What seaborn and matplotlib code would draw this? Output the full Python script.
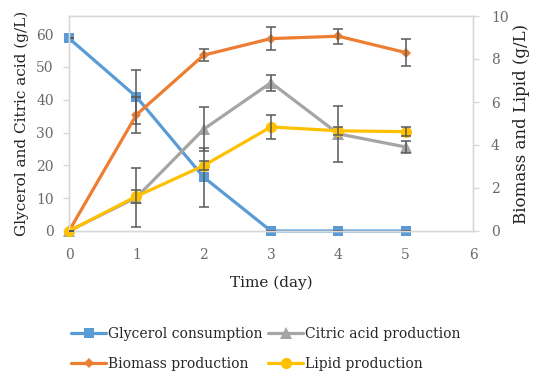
import matplotlib
matplotlib.use("Agg")
import matplotlib.pyplot as plt
import seaborn as sns
import numpy as np
import pandas as pd

days = [0, 1, 2, 3, 4, 5]
glycerol = [58.7, 40.9, 16.4, 0, 0, 0]
glycerol_err = [0, 8.2, 9.0, 0, 0, 0]
citric = [0, 10.2, 31.0, 45.2, 29.6, 25.6]
citric_err = [0, 8.9, 6.7, 2.4, 8.6, 1.8]
biomass = [0, 5.40, 8.18, 8.95, 9.06, 8.30]
biomass_err = [0, 0.85, 0.29, 0.52, 0.35, 0.61]
lipid = [0, 1.61, 3.04, 4.84, 4.66, 4.62]
lipid_err = [0, 0.3, 0.2, 0.54, 0.2, 0.2]

xticks = [0, 1, 2, 3, 4, 5, 6]
left_ticks = [0, 10, 20, 30, 40, 50, 60]
right_ticks = [0, 2, 4, 6, 8, 10]

c_gly = "#5B9BD5"
c_cit = "#A5A5A5"
c_bio = "#ED7D31"
c_lip = "#FFC000"
c_err = "#595959"
c_axis = "#D9D9D9"
c_tick = "#6a6a6a"

sns.set_theme(style="white")
plt.rcParams["font.family"] = ["DejaVu Serif"]

fig = plt.figure(figsize=(5.37, 3.72), dpi=100)
ax = fig.add_axes([69 / 537, 1 - 231 / 372, (473 - 69) / 537, (231 - 16) / 372])
ax2 = ax.twinx()

df = pd.DataFrame({"day": days, "glycerol": glycerol, "citric": citric,
                   "biomass": biomass, "lipid": lipid})

lw = 2.3
sns.lineplot(data=df, x="day", y="glycerol", ax=ax, color=c_gly, marker="s",
             markersize=7, markeredgewidth=0, linewidth=lw, label="Glycerol consumption",
             legend=False, clip_on=False)
sns.lineplot(data=df, x="day", y="citric", ax=ax, color=c_cit, marker="^",
             markersize=8, markeredgewidth=0, linewidth=lw, label="Citric acid production",
             legend=False, clip_on=False)
ax.errorbar(days, glycerol, yerr=glycerol_err, fmt="none", ecolor=c_err, elinewidth=1.1,
            capsize=3.5, capthick=1.1, zorder=5)
ax.errorbar(days, citric, yerr=citric_err, fmt="none", ecolor=c_err, elinewidth=1.1,
            capsize=3.5, capthick=1.1, zorder=5)

sns.lineplot(data=df, x="day", y="biomass", ax=ax2, color=c_bio, marker="D",
             markersize=5, markeredgewidth=0, linewidth=lw, label="Biomass production",
             legend=False, clip_on=False)
sns.lineplot(data=df, x="day", y="lipid", ax=ax2, color=c_lip, marker="o",
             markersize=8, markeredgewidth=0, linewidth=lw, label="Lipid production",
             legend=False, clip_on=False)
ax2.errorbar(days, biomass, yerr=biomass_err, fmt="none", ecolor=c_err, elinewidth=1.1,
             capsize=3.5, capthick=1.1, zorder=5)
ax2.errorbar(days, lipid, yerr=lipid_err, fmt="none", ecolor=c_err, elinewidth=1.1,
             capsize=3.5, capthick=1.1, zorder=5)

ax.set_xlim(0, 6)
ax.set_ylim(0, 65.5)
ax2.set_ylim(0, 10)
ax.set_xticks(xticks)
ax.set_yticks(left_ticks)
ax2.set_yticks(right_ticks)
ax.set_xticklabels([str(t) for t in xticks])
ax.set_yticklabels([str(t) for t in left_ticks])
ax2.set_yticklabels([str(t) for t in right_ticks])

for a in (ax, ax2):
    for s in a.spines.values():
        s.set_color(c_axis)
        s.set_linewidth(1.0)
    a.tick_params(colors=c_tick, labelsize=10, length=4, width=1, direction="out", pad=7)
    a.tick_params(axis="both", color=c_axis)
    a.grid(False)
ax.tick_params(axis="x", pad=8)
ax2.tick_params(axis="y", pad=9)

ax.set_xlabel("Time (day)", fontsize=11, color="#222222", labelpad=10)
ax.set_ylabel("Glycerol and Citric acid (g/L)", fontsize=11, color="#222222", labelpad=5)
ax2.set_ylabel("Biomass and Lipid (g/L)", fontsize=12, color="#222222", labelpad=3)

h1, l1 = ax.get_legend_handles_labels()
h2, l2 = ax2.get_legend_handles_labels()
handles = [h1[0], h2[0], h1[1], h2[1]]
labels = [l1[0], l2[0], l1[1], l2[1]]
fig.legend(handles, labels, ncol=2, loc="center", bbox_to_anchor=(266 / 537, 1 - 349 / 372),
           frameon=False, fontsize=10, handlelength=2.5, handletextpad=0.15,
           columnspacing=0.4, labelspacing=1.2)

fig.savefig("out.png", dpi=100)
